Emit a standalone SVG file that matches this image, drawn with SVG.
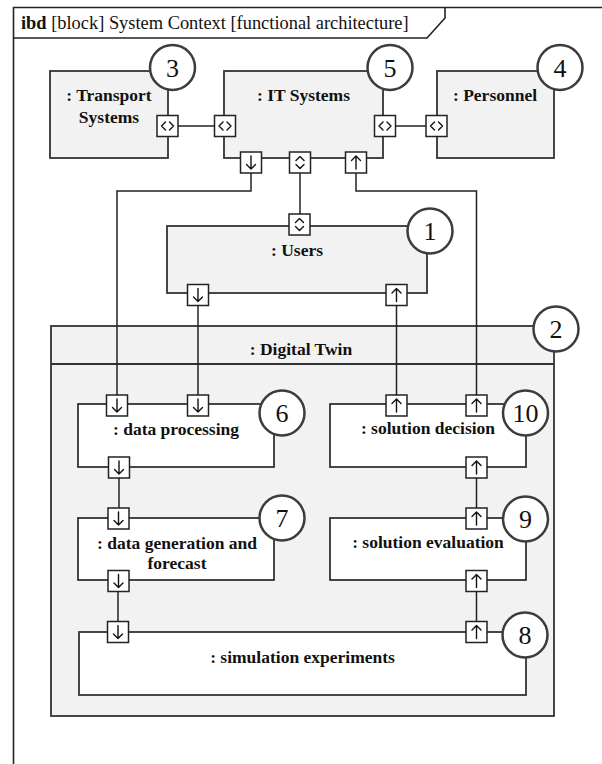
<svg xmlns="http://www.w3.org/2000/svg" xmlns:xlink="http://www.w3.org/1999/xlink" width="602" height="764" viewBox="0 0 602 764">
  <style>
    .frame { fill: none; stroke: #222; stroke-width: 1.6; }
    .blk { fill: #f2f2f2; stroke: #333; stroke-width: 1.8; }
    .inner { fill: #fff; stroke: #333; stroke-width: 1.8; }
    .port { fill: #fff; stroke: #222; stroke-width: 1.5; }
    .glyph { fill: none; stroke: #111; stroke-width: 1.4; stroke-linecap: round; stroke-linejoin: round; }
    .conn { fill: none; stroke: #222; stroke-width: 1.5; }
    .num { fill: #fff; stroke: #3c3c3c; stroke-width: 2.5; }
    .lbl { font-family: "Liberation Serif", "Times New Roman", serif; font-size: 17.5px; font-weight: bold; fill: #111; text-anchor: middle; }
    .numtxt { font-family: "Liberation Serif", "Times New Roman", serif; font-size: 26px; fill: #111; text-anchor: middle; }
    .hdr { font-family: "Liberation Serif", "Times New Roman", serif; font-size: 18.4px; fill: #111; }
  </style>
  <defs>
    <g id="p-down">
      <rect x="-10.5" y="-10.5" width="21" height="21" class="port"/>
      <path d="M0 -6.5V6.5M-4.5 2L0 6.5L4.5 2" class="glyph"/>
    </g>
    <g id="p-up">
      <rect x="-10.5" y="-10.5" width="21" height="21" class="port"/>
      <path d="M0 6.5V-6.5M-4.5 -2L0 -6.5L4.5 -2" class="glyph"/>
    </g>
    <g id="p-io">
      <rect x="-10.5" y="-10.5" width="21" height="21" class="port"/>
      <path d="M-2 -4L-6 0L-2 4M2 -4L6 0L2 4" class="glyph"/>
    </g>
    <g id="p-ud">
      <rect x="-10.5" y="-10.5" width="21" height="21" class="port"/>
      <path d="M-4 -2L0 -6L4 -2M-4 2L0 6L4 2" class="glyph"/>
    </g>
  </defs>

  <rect width="602" height="764" fill="#fff"/>

  <!-- diagram frame with ibd heading -->
  <g id="frame">
    <path class="frame" d="M13.5 764V7.5H602"/>
    <path class="frame" d="M13.5 38H427L445 18V7.5"/>
    <text class="hdr" x="21" y="28.5"><tspan font-weight="bold">ibd</tspan> [block] System Context [functional architecture]</text>
  </g>

  <!-- Transport Systems -->
  <g id="transport-systems">
    <rect class="blk" x="50" y="71" width="118" height="87"/>
    <text class="lbl" x="109" y="101">: Transport</text>
    <text class="lbl" x="109" y="123">Systems</text>
    <use xlink:href="#p-io" x="167.5" y="126"/>
    <circle class="num" cx="172.5" cy="67.5" r="22.5"/>
    <text class="numtxt" x="172.5" y="76.5">3</text>
  </g>

  <!-- IT Systems -->
  <g id="it-systems">
    <rect class="blk" x="224" y="71" width="159" height="87"/>
    <text class="lbl" x="303.5" y="101">: IT Systems</text>
    <use xlink:href="#p-io" x="225" y="126"/>
    <use xlink:href="#p-io" x="385" y="126"/>
    <use xlink:href="#p-down" x="251" y="162.5"/>
    <use xlink:href="#p-ud" x="300" y="162.5"/>
    <use xlink:href="#p-up" x="356" y="162.5"/>
    <circle class="num" cx="390" cy="67.5" r="22.5"/>
    <text class="numtxt" x="390" y="76.5">5</text>
  </g>

  <!-- Personnel -->
  <g id="personnel">
    <rect class="blk" x="437" y="71" width="117" height="87"/>
    <text class="lbl" x="495" y="101">: Personnel</text>
    <use xlink:href="#p-io" x="436.5" y="126"/>
    <circle class="num" cx="560" cy="67.5" r="22.5"/>
    <text class="numtxt" x="560" y="76.5">4</text>
  </g>

  <!-- Users -->
  <g id="users">
    <rect class="blk" x="167" y="226" width="260" height="67"/>
    <text class="lbl" x="297" y="256">: Users</text>
    <use xlink:href="#p-ud" x="299.5" y="224.5"/>
    <use xlink:href="#p-down" x="198" y="295"/>
    <use xlink:href="#p-up" x="396.5" y="295"/>
    <circle class="num" cx="430" cy="231" r="22.5"/>
    <text class="numtxt" x="430" y="240">1</text>
  </g>

  <!-- Digital Twin container -->
  <g id="digital-twin">
    <rect class="blk" x="51" y="326" width="503" height="390"/>
    <line class="blk" x1="51" y1="364" x2="554" y2="364"/>
    <text class="lbl" x="301" y="355">: Digital Twin</text>
    <circle class="num" cx="556" cy="329" r="22.5"/>
    <text class="numtxt" x="556" y="338">2</text>
  </g>

  <!-- connectors -->
  <g id="connectors">
    <path class="conn" d="M178 126H214.5"/>
    <path class="conn" d="M395.5 126H426"/>
    <path class="conn" d="M251 173V191H117V395"/>
    <path class="conn" d="M300 173V214"/>
    <path class="conn" d="M356 173V191H476.5V395"/>
    <path class="conn" d="M198 305.5V395"/>
    <path class="conn" d="M396.5 305.5V395"/>
    <path class="conn" d="M119 478V508"/>
    <path class="conn" d="M118 591.5V621.5"/>
    <path class="conn" d="M476.5 478V508"/>
    <path class="conn" d="M476.5 591.5V621.5"/>
  </g>

  <!-- data processing -->
  <g id="data-processing">
    <rect class="inner" x="78" y="404" width="196" height="63"/>
    <text class="lbl" x="176" y="435">: data processing</text>
    <use xlink:href="#p-down" x="117" y="405.5"/>
    <use xlink:href="#p-down" x="198" y="405.5"/>
    <use xlink:href="#p-down" x="119" y="467.5"/>
    <circle class="num" cx="282" cy="413" r="22.5"/>
    <text class="numtxt" x="282" y="422">6</text>
  </g>

  <!-- solution decision -->
  <g id="solution-decision">
    <rect class="inner" x="330" y="404" width="196" height="63"/>
    <text class="lbl" x="428" y="434">: solution decision</text>
    <use xlink:href="#p-up" x="396.5" y="405.5"/>
    <use xlink:href="#p-up" x="476.5" y="405.5"/>
    <use xlink:href="#p-up" x="476.5" y="467.5"/>
    <circle class="num" cx="525.5" cy="413" r="22.5"/>
    <text class="numtxt" x="525.5" y="422">10</text>
  </g>

  <!-- data generation and forecast -->
  <g id="data-generation">
    <rect class="inner" x="78" y="518" width="196" height="62"/>
    <text class="lbl" x="177" y="549">: data generation and</text>
    <text class="lbl" x="177" y="569">forecast</text>
    <use xlink:href="#p-down" x="118.5" y="518.5"/>
    <use xlink:href="#p-down" x="118.5" y="581"/>
    <circle class="num" cx="282" cy="518" r="22.5"/>
    <text class="numtxt" x="282" y="527">7</text>
  </g>

  <!-- solution evaluation -->
  <g id="solution-evaluation">
    <rect class="inner" x="330" y="518" width="196" height="62"/>
    <text class="lbl" x="428" y="548">: solution evaluation</text>
    <use xlink:href="#p-up" x="476.5" y="518.5"/>
    <use xlink:href="#p-up" x="476.5" y="581"/>
    <circle class="num" cx="525.5" cy="519" r="22.5"/>
    <text class="numtxt" x="525.5" y="528">9</text>
  </g>

  <!-- simulation experiments -->
  <g id="simulation-experiments">
    <rect class="inner" x="79" y="632" width="447" height="63"/>
    <text class="lbl" x="302.5" y="663">: simulation experiments</text>
    <use xlink:href="#p-down" x="118" y="632"/>
    <use xlink:href="#p-up" x="476.5" y="632"/>
    <circle class="num" cx="525" cy="635" r="22.5"/>
    <text class="numtxt" x="525" y="644">8</text>
  </g>
</svg>
